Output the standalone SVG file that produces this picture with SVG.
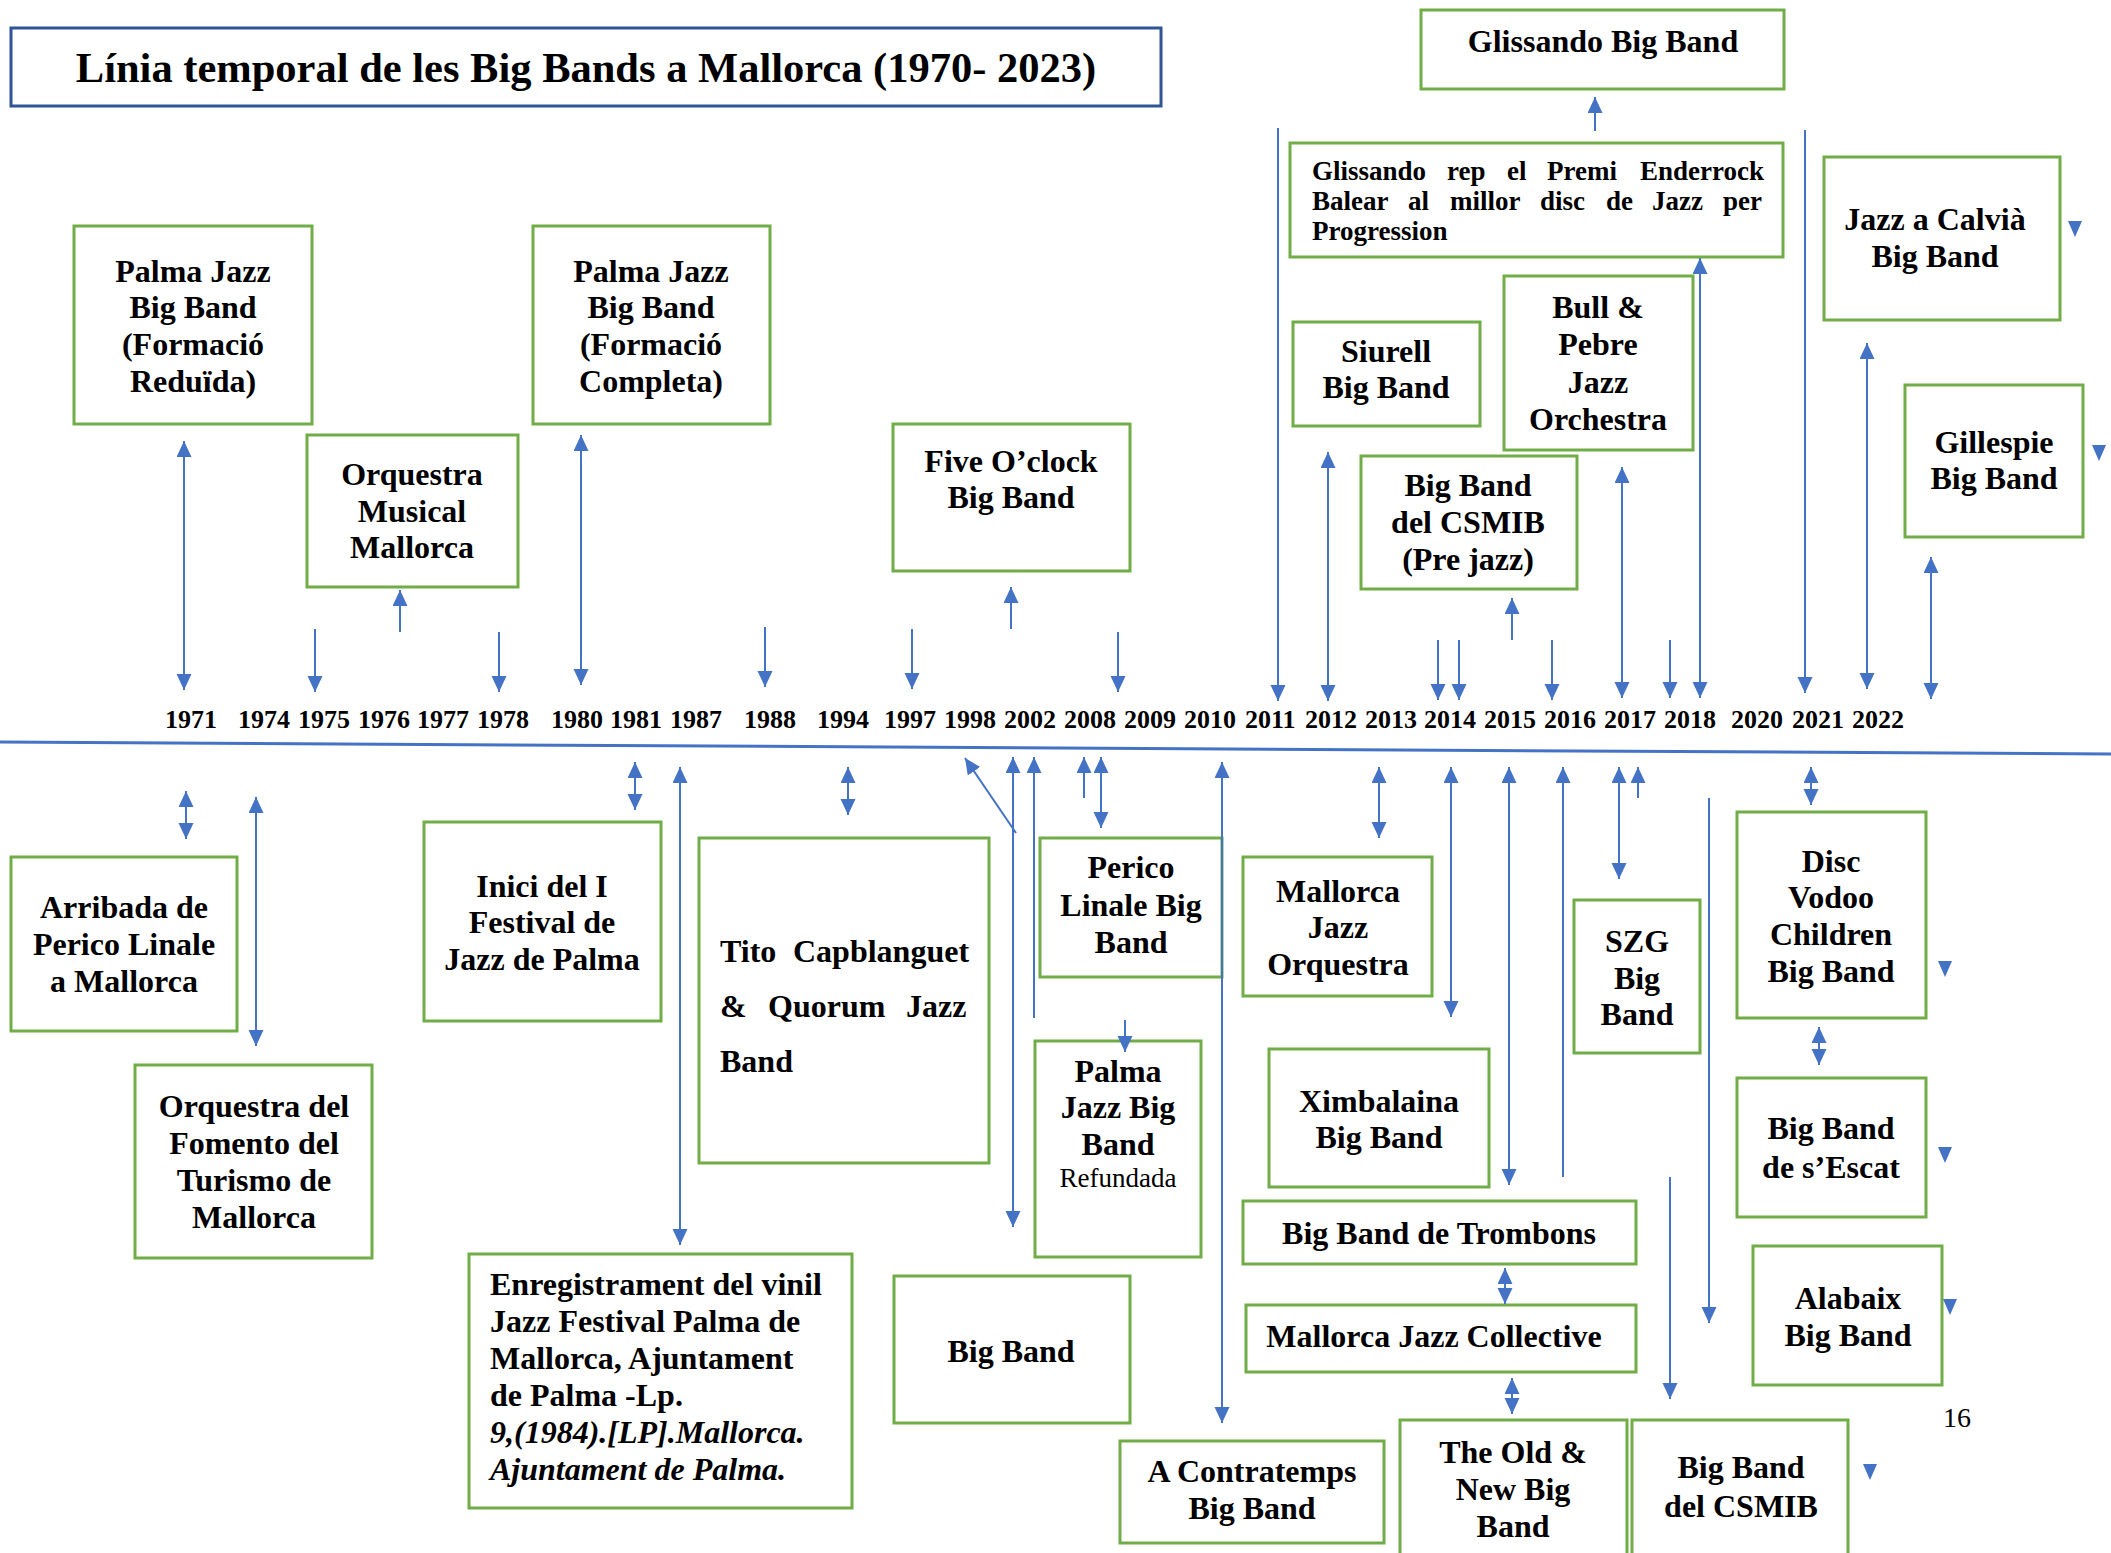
<svg xmlns="http://www.w3.org/2000/svg" width="2111" height="1553" viewBox="0 0 2111 1553">
<style>
.box{fill:none;stroke:#70AD47;stroke-width:3}
.t{font-family:"Liberation Serif","Times New Roman",serif;font-weight:bold;font-size:32px;fill:#000;text-anchor:middle}
.tl{font-family:"Liberation Serif","Times New Roman",serif;font-weight:bold;font-size:32px;fill:#000}
.s{font-family:"Liberation Serif","Times New Roman",serif;font-weight:bold;font-size:27px;fill:#000}
.y{font-family:"Liberation Serif","Times New Roman",serif;font-weight:bold;font-size:26px;fill:#000}
.r{font-family:"Liberation Serif","Times New Roman",serif;font-weight:normal;font-size:27px;fill:#000;text-anchor:middle}
.c{fill:none;stroke:#4472C4;stroke-width:2}
.a1{marker-end:url(#ah)}
.a2{marker-start:url(#ah);marker-end:url(#ah)}
.tri{fill:#4472C4}
</style>
<defs>
<marker id="ah" markerWidth="17" markerHeight="16" refX="16" refY="7.5" orient="auto-start-reverse" markerUnits="userSpaceOnUse">
<path d="M0,0 L16,7.5 L0,15 z" fill="#4472C4"/>
</marker>
</defs>
<rect width="2111" height="1553" fill="#fff"/>

<g id="title">
<rect x="11" y="28" width="1150" height="78" fill="#fff" stroke="#2F5597" stroke-width="3"/>
<text class="t" x="586" y="82" style="font-size:42.5px">Línia temporal de les Big Bands a Mallorca (1970- 2023)</text>
</g>

<g id="timeline">
<path d="M0,742 L2111,754" stroke="#4472C4" stroke-width="3" fill="none"/>
<text class="y" y="728"><tspan x="165">1971</tspan><tspan x="238">1974</tspan><tspan x="298">1975</tspan><tspan x="358">1976</tspan><tspan x="417">1977</tspan><tspan x="477">1978</tspan><tspan x="551">1980</tspan><tspan x="610">1981</tspan><tspan x="670">1987</tspan><tspan x="744">1988</tspan><tspan x="817">1994</tspan><tspan x="884">1997</tspan><tspan x="944">1998</tspan><tspan x="1004">2002</tspan><tspan x="1064">2008</tspan><tspan x="1124">2009</tspan><tspan x="1184">2010</tspan><tspan x="1245">2011</tspan><tspan x="1305">2012</tspan><tspan x="1365">2013</tspan><tspan x="1424">2014</tspan><tspan x="1484">2015</tspan><tspan x="1544">2016</tspan><tspan x="1604">2017</tspan><tspan x="1664">2018</tspan><tspan x="1731">2020</tspan><tspan x="1792">2021</tspan><tspan x="1852">2022</tspan></text>
</g>

<g id="palma-reduida">
<rect class="box" x="74" y="226" width="238" height="198"/>
<text class="t" x="193"><tspan x="193" y="282">Palma Jazz</tspan><tspan x="193" y="318">Big Band</tspan><tspan x="193" y="355">(Formació</tspan><tspan x="193" y="392">Reduïda)</tspan></text>
</g>

<g id="orquestra-musical">
<rect class="box" x="307" y="435" width="211" height="152"/>
<text class="t"><tspan x="412" y="485">Orquestra</tspan><tspan x="412" y="522">Musical</tspan><tspan x="412" y="558">Mallorca</tspan></text>
</g>

<g id="palma-completa">
<rect class="box" x="533" y="226" width="237" height="198"/>
<text class="t"><tspan x="651" y="282">Palma Jazz</tspan><tspan x="651" y="318">Big Band</tspan><tspan x="651" y="355">(Formació</tspan><tspan x="651" y="392">Completa)</tspan></text>
</g>

<g id="five-oclock">
<rect class="box" x="893" y="424" width="237" height="147"/>
<text class="t"><tspan x="1011" y="472">Five O’clock</tspan><tspan x="1011" y="508">Big Band</tspan></text>
</g>

<g id="glissando">
<rect class="box" x="1421" y="10" width="363" height="79"/>
<text class="t" x="1603" y="52">Glissando Big Band</text>
</g>

<g id="glissando-premi">
<rect class="box" x="1290" y="143" width="493" height="114"/>
<text class="s" y="180"><tspan x="1312">Glissando</tspan><tspan x="1447">rep</tspan><tspan x="1507">el</tspan><tspan x="1547">Premi</tspan><tspan x="1640">Enderrock</tspan></text>
<text class="s" y="210"><tspan x="1312">Balear</tspan><tspan x="1408">al</tspan><tspan x="1450">millor</tspan><tspan x="1540">disc</tspan><tspan x="1606">de</tspan><tspan x="1652">Jazz</tspan><tspan x="1723">per</tspan></text>
<text class="s" x="1312" y="240">Progression</text>
</g>

<g id="jazz-calvia">
<rect class="box" x="1824" y="157" width="236" height="163"/>
<text class="t"><tspan x="1935" y="230">Jazz a Calvià</tspan><tspan x="1935" y="267">Big Band</tspan></text>
</g>

<g id="siurell">
<rect class="box" x="1293" y="322" width="187" height="104"/>
<text class="t"><tspan x="1386" y="362">Siurell</tspan><tspan x="1386" y="398">Big Band</tspan></text>
</g>

<g id="bull-pebre">
<rect class="box" x="1504" y="276" width="189" height="174"/>
<text class="t"><tspan x="1598" y="318">Bull &amp;</tspan><tspan x="1598" y="355">Pebre</tspan><tspan x="1598" y="393">Jazz</tspan><tspan x="1598" y="430">Orchestra</tspan></text>
</g>

<g id="csmib-prejazz">
<rect class="box" x="1361" y="456" width="216" height="133"/>
<text class="t"><tspan x="1468" y="496">Big Band</tspan><tspan x="1468" y="533">del CSMIB</tspan><tspan x="1468" y="570">(Pre jazz)</tspan></text>
</g>

<g id="gillespie">
<rect class="box" x="1905" y="385" width="178" height="152"/>
<text class="t"><tspan x="1994" y="453">Gillespie</tspan><tspan x="1994" y="489">Big Band</tspan></text>
</g>

<g id="arribada">
<rect class="box" x="11" y="857" width="226" height="174"/>
<text class="t"><tspan x="124" y="918">Arribada de</tspan><tspan x="124" y="955">Perico Linale</tspan><tspan x="124" y="992">a Mallorca</tspan></text>
</g>

<g id="fomento">
<rect class="box" x="135" y="1065" width="237" height="193"/>
<text class="t"><tspan x="254" y="1117">Orquestra del</tspan><tspan x="254" y="1154">Fomento del</tspan><tspan x="254" y="1191">Turismo de</tspan><tspan x="254" y="1228">Mallorca</tspan></text>
</g>

<g id="inici-festival">
<rect class="box" x="424" y="822" width="237" height="199"/>
<text class="t"><tspan x="542" y="897">Inici del I</tspan><tspan x="542" y="933">Festival de</tspan><tspan x="542" y="970">Jazz de Palma</tspan></text>
</g>

<g id="tito">
<rect class="box" x="699" y="838" width="290" height="325"/>
<text class="tl" y="962"><tspan x="720">Tito</tspan><tspan x="793">Capblanguet</tspan></text>
<text class="tl" y="1017"><tspan x="720">&amp;</tspan><tspan x="768">Quorum</tspan><tspan x="906">Jazz</tspan></text>
<text class="tl" x="720" y="1072">Band</text>
</g>

<g id="perico-linale">
<rect class="box" x="1040" y="838" width="182" height="139"/>
<text class="t"><tspan x="1131" y="878">Perico</tspan><tspan x="1131" y="916">Linale Big</tspan><tspan x="1131" y="953">Band</tspan></text>
</g>

<g id="palma-refundada">
<rect class="box" x="1035" y="1041" width="166" height="216"/>
<text class="t"><tspan x="1118" y="1082">Palma</tspan><tspan x="1118" y="1118">Jazz Big</tspan><tspan x="1118" y="1155">Band</tspan></text>
<text class="r" x="1118" y="1187">Refundada</text>
</g>

<g id="mallorca-jazz-orquestra">
<rect class="box" x="1243" y="857" width="189" height="139"/>
<text class="t"><tspan x="1338" y="902">Mallorca</tspan><tspan x="1338" y="938">Jazz</tspan><tspan x="1338" y="975">Orquestra</tspan></text>
</g>

<g id="ximbalaina">
<rect class="box" x="1269" y="1049" width="220" height="138"/>
<text class="t"><tspan x="1379" y="1112">Ximbalaina</tspan><tspan x="1379" y="1148">Big Band</tspan></text>
</g>

<g id="szg">
<rect class="box" x="1574" y="900" width="126" height="153"/>
<text class="t"><tspan x="1637" y="952">SZG</tspan><tspan x="1637" y="989">Big</tspan><tspan x="1637" y="1025">Band</tspan></text>
</g>

<g id="disc-vodoo">
<rect class="box" x="1737" y="812" width="189" height="206"/>
<text class="t"><tspan x="1831" y="872">Disc</tspan><tspan x="1831" y="908">Vodoo</tspan><tspan x="1831" y="945">Children</tspan><tspan x="1831" y="982">Big Band</tspan></text>
</g>

<g id="escat">
<rect class="box" x="1737" y="1078" width="189" height="139"/>
<text class="t"><tspan x="1831" y="1139">Big Band</tspan><tspan x="1831" y="1178">de s’Escat</tspan></text>
</g>

<g id="trombons">
<rect class="box" x="1243" y="1201" width="393" height="63"/>
<text class="t" x="1439" y="1244">Big Band de Trombons</text>
</g>

<g id="collective">
<rect class="box" x="1246" y="1305" width="390" height="67"/>
<text class="t" x="1434" y="1347">Mallorca Jazz Collective</text>
</g>

<g id="alabaix">
<rect class="box" x="1753" y="1246" width="189" height="139"/>
<text class="t"><tspan x="1848" y="1309">Alabaix</tspan><tspan x="1848" y="1346">Big Band</tspan></text>
</g>

<g id="page-number">
<text class="r" x="1957" y="1427" style="font-size:28px">16</text>
</g>

<g id="contratemps">
<rect class="box" x="1120" y="1441" width="264" height="102"/>
<text class="t"><tspan x="1252" y="1482">A Contratemps</tspan><tspan x="1252" y="1519">Big Band</tspan></text>
</g>

<g id="old-new">
<rect class="box" x="1400" y="1420" width="227" height="140"/>
<text class="t"><tspan x="1513" y="1463">The Old &amp;</tspan><tspan x="1513" y="1500">New Big</tspan><tspan x="1513" y="1537">Band</tspan></text>
</g>

<g id="csmib">
<rect class="box" x="1632" y="1420" width="216" height="140"/>
<text class="t"><tspan x="1741" y="1478">Big Band</tspan><tspan x="1741" y="1517">del CSMIB</tspan></text>
</g>

<g id="big-band">
<rect class="box" x="894" y="1276" width="236" height="147"/>
<text class="t" x="1011" y="1362">Big Band</text>
</g>

<g id="enregistrament">
<rect class="box" x="469" y="1254" width="383" height="254"/>
<text class="tl"><tspan x="490" y="1295">Enregistrament del vinil</tspan><tspan x="490" y="1332">Jazz Festival Palma de</tspan><tspan x="490" y="1369">Mallorca, Ajuntament</tspan><tspan x="490" y="1406">de Palma -Lp.</tspan><tspan x="490" y="1443" font-style="italic">9,(1984).[LP].Mallorca.</tspan><tspan x="490" y="1480" font-style="italic">Ajuntament de Palma.</tspan></text>
</g>

<g id="connectors">
<path class="c a2" d="M184,441 V690"/>
<path class="c a1" d="M315,629 V692"/>
<path class="c a1" d="M400,632 V590"/>
<path class="c a1" d="M499,632 V692"/>
<path class="c a2" d="M581,435 V685"/>
<path class="c a1" d="M765,627 V687"/>
<path class="c a1" d="M912,629 V689"/>
<path class="c a1" d="M1011,629 V587"/>
<path class="c a1" d="M1118,632 V692"/>
<path class="c a1" d="M1278,128 V701"/>
<path class="c a2" d="M1328,452 V701"/>
<path class="c a1" d="M1438,640 V700"/>
<path class="c a1" d="M1459,640 V700"/>
<path class="c a1" d="M1512,640 V598"/>
<path class="c a1" d="M1552,640 V700"/>
<path class="c a2" d="M1622,467 V698"/>
<path class="c a1" d="M1670,640 V698"/>
<path class="c a2" d="M1700,258 V698"/>
<path class="c a1" d="M1805,130 V693"/>
<path class="c a2" d="M1867,343 V689"/>
<path class="c a2" d="M1931,557 V699"/>
<path class="c a1" d="M1595,131 V97"/>

<path class="c a2" d="M186,791 V839"/>
<path class="c a2" d="M256,797 V1046"/>
<path class="c a2" d="M635,762 V810"/>
<path class="c a2" d="M680,767 V1245"/>
<path class="c a2" d="M848,767 V815"/>
<path class="c a1" d="M1016,833 L965,758"/>
<path class="c a2" d="M1013,757 V1227"/>
<path class="c a1" d="M1034,1018 V757"/>
<path class="c a1" d="M1084,798 V757"/>
<path class="c a2" d="M1101,757 V828"/>
<path class="c a1" d="M1125,1020 V1052"/>
<path class="c a2" d="M1222,762 V1423"/>
<path class="c a2" d="M1379,767 V838"/>
<path class="c a2" d="M1451,767 V1017"/>
<path class="c a2" d="M1509,767 V1185"/>
<path class="c a1" d="M1563,1177 V767"/>
<path class="c a2" d="M1619,767 V879"/>
<path class="c a1" d="M1638,798 V767"/>
<path class="c a1" d="M1709,798 V1323"/>
<path class="c a1" d="M1670,1177 V1399"/>
<path class="c a2" d="M1811,767 V805"/>
<path class="c a2" d="M1819,1027 V1065"/>
<path class="c a2" d="M1505,1268 V1304"/>
<path class="c a2" d="M1512,1378 V1414"/>

<path class="tri" d="M2068,221 L2082,221 L2075,237 z"/>
<path class="tri" d="M2092,445 L2106,445 L2099,461 z"/>
<path class="tri" d="M1938,961 L1952,961 L1945,977 z"/>
<path class="tri" d="M1938,1147 L1952,1147 L1945,1163 z"/>
<path class="tri" d="M1943,1299 L1957,1299 L1950,1315 z"/>
<path class="tri" d="M1863,1464 L1877,1464 L1870,1480 z"/>
</g>
</svg>
